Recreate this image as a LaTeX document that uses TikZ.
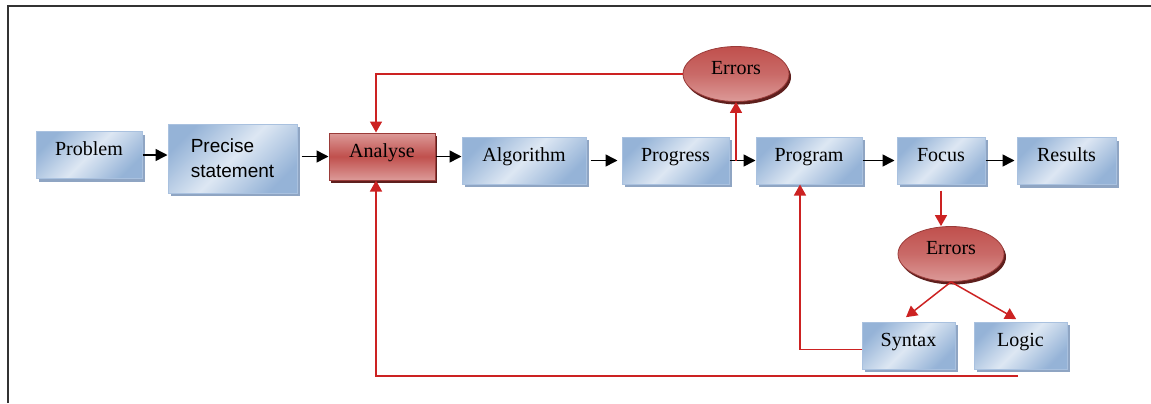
\documentclass[tikz,border=0pt]{standalone}
\usepackage{fontspec}
\setmainfont{Liberation Serif}
\setsansfont{Liberation Sans}
\usetikzlibrary{arrows.meta,shadows,shapes.geometric}

\definecolor{boxlight}{HTML}{DDE7F3}
\definecolor{boxdark}{HTML}{95B3D7}
\definecolor{boxline}{HTML}{A9C1DF}
\definecolor{boxshadow}{HTML}{8FA5C3}
\definecolor{errred}{HTML}{C0504D}
\definecolor{errlight}{HTML}{DC9A98}
\definecolor{errline}{HTML}{9A3B39}
\definecolor{errshadow}{HTML}{5E1F1D}
\definecolor{loopred}{HTML}{CC2222}

\tikzset{
  stage/.style={draw=boxline, line width=0.5pt, left color=boxdark, right color=boxdark,
    middle color=boxlight, shading angle=45, minimum height=23.5pt, inner sep=2pt, text depth=6pt,
    drop shadow={shadow xshift=1.5pt, shadow yshift=-1.5pt, fill=boxshadow, opacity=1}},
  redstage/.style={draw=errline, line width=0.5pt, top color=errlight, bottom color=errlight,
    middle color=errred, minimum height=23.5pt, inner sep=2pt, text depth=6pt,
    drop shadow={shadow xshift=1pt, shadow yshift=-1.5pt, fill=errshadow, opacity=1}},
  errnode/.style={ellipse, draw=errline, line width=0.4pt, top color=errred, bottom color=errlight,
    middle color=errred!85!white, minimum width=53pt, minimum height=27.5pt, inner sep=1pt, text depth=6pt,
    drop shadow={shadow xshift=1pt, shadow yshift=-1.5pt, fill=errshadow, opacity=1}},
  blackarr/.style={-{Triangle[length=6pt,width=6pt]}, line width=0.75pt},
  redarr/.style={draw=loopred, -{Triangle[length=5.5pt,width=6pt]}, line width=0.75pt}
}

\begin{document}
\begin{tikzpicture}[x=0.5pt, y=-0.5pt]
    \useasboundingbox (0,0) rectangle (1151,403);
    \draw [line width=0.75pt, color=black!80] (8,403) -- (8,6) -- (1151,6);

    \node [stage, minimum width=53pt] (problem) at (89,155) {Problem};
    \node [stage, minimum width=64.5pt, minimum height=34.5pt, align=left, text depth=,
           font=\sffamily\fontsize{9.5}{12.5}\selectfont] (precise) at (232.5,158.5) {Precise\\statement};
    \node [redstage, minimum width=53pt] (analyse) at (382,156.5) {Analyse};
    \node [stage, minimum width=62pt] (algorithm) at (524,160.5) {Algorithm};
    \node [stage, minimum width=53.5pt] (progress) at (675.5,160.5) {Progress};
    \node [stage, minimum width=53pt] (program) at (809,160.5) {Program};
    \node [stage, minimum width=44pt] (focus) at (941,160.5) {Focus};
    \node [stage, minimum width=49.5pt] (results) at (1066.5,161) {Results};
    \node [errnode] (errtop) at (736,74) {Errors};
    \node [errnode] (errlow) at (951,254) {Errors};
    \node [stage, minimum width=46.5pt] (syntax) at (908.5,345.5) {Syntax};
    \node [stage, minimum width=46.5pt] (logic) at (1020.5,345.5) {Logic};
    \coordinate (loopend) at (1018,376);

    \draw [blackarr] (problem.east) -- (problem.east -| precise.west);
    \draw [blackarr, shorten <=2pt] (precise.east |- analyse.west) -- (analyse.west);
    \draw [blackarr] (analyse.east) -- (analyse.east -| algorithm.west);
    \draw [blackarr, shorten <=2pt, shorten >=2pt] (algorithm.east) -- (progress.west);
    \draw [blackarr] (progress.east) -- (program.west);
    \draw [blackarr, shorten >=1pt] (program.east) -- (focus.west);
    \draw [blackarr, shorten >=1pt] (focus.east) -- (focus.east -| results.west);

    \draw [redarr] (errtop.south |- progress.east) -- (errtop.south);
    \draw [redarr] (errtop.west) -| ([xshift=-3pt]analyse.north);
    \draw [redarr, shorten <=3pt] (focus.south) -- (focus.south |- errlow.north);
    \draw [redarr, shorten >=3.5pt] (errlow.south) -- ([xshift=-4pt]syntax.north);
    \draw [redarr, shorten >=2.5pt] (errlow.south) -- (logic.north);
    \draw [redarr] ([yshift=-2pt]syntax.west) -| ([xshift=-4.5pt]program.south);
    \draw [redarr] (loopend) -| ([xshift=-3pt]analyse.south);
\end{tikzpicture}
\end{document}
